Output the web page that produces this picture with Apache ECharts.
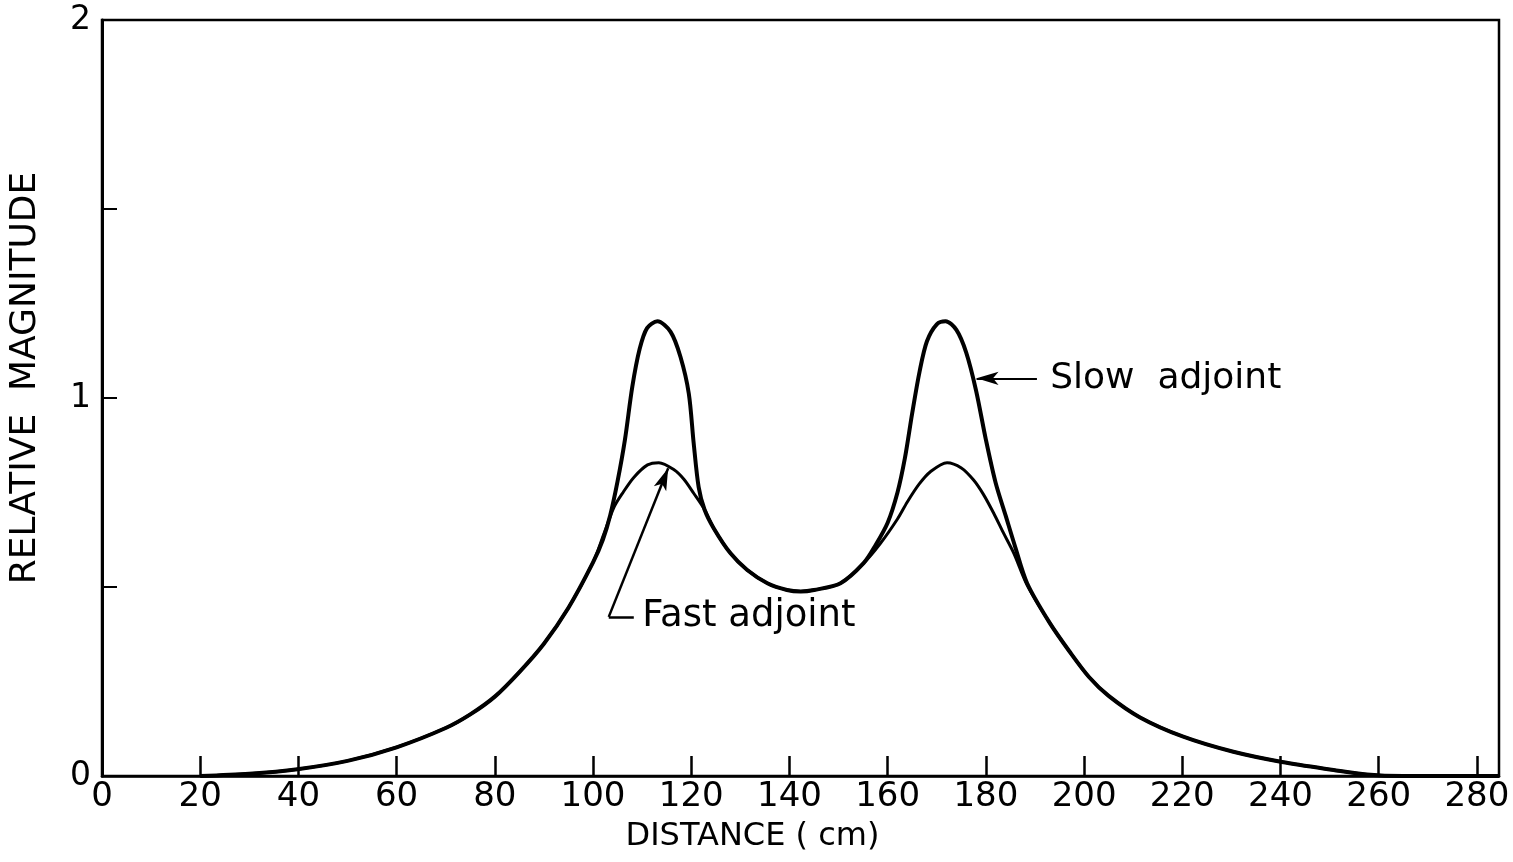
<!DOCTYPE html>
<html>
<head>
<meta charset="utf-8">
<script src="https://cdn.jsdelivr.net/npm/echarts@6/dist/echarts.min.js"></script>
<style>
  html, body { margin: 0; padding: 0; background: #fff; }
  #chart { width: 1513px; height: 862px; }
</style>
</head>
<body>
<div id="chart"></div>
<script>
// Distance (cm) and relative magnitude
const slowX = [20, 30, 39.8, 50, 60, 70, 75, 80, 85, 90, 95, 100, 102, 103.5, 105, 106.5, 108, 109.5, 111, 113.1, 115.8, 117.8, 119.5, 120.5, 121.5, 122.7, 124.6, 128, 131.4, 135.5, 139.5, 142.3, 145, 150.4, 155.1, 157.5, 160, 162, 163.5, 165, 166.5, 168, 170, 171.8, 174, 176, 178, 180, 182, 184, 186, 188.4, 193, 197, 201, 205, 211.4, 220.2, 230.4, 240.3, 250.8, 257.6, 265, 284.5];
const slowY = [0, 0.006, 0.018, 0.04, 0.076, 0.127, 0.163, 0.21, 0.275, 0.35, 0.445, 0.565, 0.625, 0.69, 0.78, 0.89, 1.03, 1.13, 1.185, 1.203, 1.175, 1.109, 1.012, 0.88, 0.765, 0.705, 0.655, 0.589, 0.545, 0.51, 0.492, 0.488, 0.492, 0.51, 0.563, 0.61, 0.67, 0.75, 0.84, 0.96, 1.07, 1.15, 1.195, 1.203, 1.18, 1.12, 1.02, 0.89, 0.775, 0.69, 0.605, 0.51, 0.405, 0.33, 0.262, 0.212, 0.155, 0.104, 0.064, 0.037, 0.016, 0.004, 0, 0];

const fastX = [20, 30, 39.8, 50, 60, 70, 75, 80, 85, 90, 95, 100, 102.2, 104.3, 106.2, 108.3, 111.1, 113.4, 116.5, 118.5, 120.5, 122.7, 124.6, 128, 131.4, 135.5, 139.5, 142.3, 145, 150.4, 155.1, 158.5, 162, 164, 166.4, 168.7, 172.1, 175, 177.5, 179.5, 181.6, 183.5, 185.7, 188.4, 193, 197, 201, 205, 211.4, 220.2, 230.4, 240.3, 250.8, 257.6, 265, 284.5];
const fastY = [0, 0.006, 0.018, 0.04, 0.076, 0.127, 0.163, 0.21, 0.275, 0.35, 0.445, 0.565, 0.64, 0.712, 0.752, 0.79, 0.823, 0.829, 0.81, 0.785, 0.748, 0.705, 0.655, 0.589, 0.545, 0.51, 0.492, 0.488, 0.492, 0.51, 0.563, 0.615, 0.68, 0.725, 0.772, 0.805, 0.829, 0.815, 0.783, 0.745, 0.695, 0.645, 0.589, 0.505, 0.405, 0.33, 0.262, 0.212, 0.155, 0.104, 0.064, 0.037, 0.016, 0.004, 0, 0];

const xTickLabels = ['0', '20', '40', '60', '80', '100', '120', '140', '160', '180', '200', '220', '240', '260', '280'];
const yTickLabels = ['0', '1', '2'];

const slowLabel = 'Slow  adjoint';
const fastLabel = 'Fast adjoint';
const xTitle = 'DISTANCE ( cm)';
const yTitle = 'RELATIVE  MAGNITUDE';

const FONT = 'DejaVu Sans';
const pairs = (xs, ys) => xs.map((x, i) => [x, ys[i]]);

const chart = echarts.init(document.getElementById('chart'), null, { renderer: 'canvas' });
chart.setOption({
  animation: false,
  backgroundColor: '#ffffff',
  grid: { left: 101, right: 14, top: 20, bottom: 86, show: true, borderColor: '#000', borderWidth: 2.5, containLabel: false },
  xAxis: {
    type: 'value', min: 0, max: 284.5, interval: 20,
    axisLine: { show: true, lineStyle: { color: '#000', width: 2.5 } },
    axisTick: { show: true, inside: true, length: 20, lineStyle: { color: '#000', width: 2.5 } },
    axisLabel: {
      color: '#000', fontSize: 34, fontFamily: FONT, margin: 4, showMaxLabel: false,
      formatter: v => { const s = String(v); return xTickLabels.indexOf(s) >= 0 ? s : ''; }
    },
    splitLine: { show: false },
    name: xTitle, nameLocation: 'middle', nameGap: 45,
    nameTextStyle: { color: '#000', fontSize: 32, fontFamily: FONT, padding: [0, 96, 0, 0] }
  },
  yAxis: {
    type: 'value', min: 0, max: 2, interval: 0.5,
    axisLine: { show: true, lineStyle: { color: '#000', width: 3 } },
    axisTick: { show: true, inside: true, length: 15, lineStyle: { color: '#000', width: 2 } },
    axisLabel: {
      color: '#000', fontSize: 33, fontFamily: FONT, margin: 11,
      formatter: v => { const s = String(v); return yTickLabels.indexOf(s) >= 0 ? s : ''; }
    },
    splitLine: { show: false },
    name: yTitle, nameLocation: 'middle', nameGap: 58, nameRotate: 90,
    nameTextStyle: { color: '#000', fontSize: 36, fontFamily: FONT, padding: [0, 0, 0, 40] }
  },
  series: [
    {
      name: 'Slow adjoint', type: 'line', data: pairs(slowX, slowY),
      smooth: 0.3, showSymbol: false, symbol: 'none',
      lineStyle: { color: '#000', width: 4 },
      markLine: {
        silent: true, animation: false,
        lineStyle: { color: '#000', width: 2, type: 'solid' },
        label: { show: false },
        data: [
          [ { coord: [190.4, 1.052], symbol: 'none' }, { coord: [178.1, 1.052], symbol: 'arrow', symbolSize: [10, 22] } ]
        ]
      },
      markPoint: {
        silent: true, symbol: 'circle', symbolSize: 0,
        data: [ { coord: [193.1, 1.052], value: 0,
          label: { show: true, position: 'right', distance: 0, formatter: slowLabel, color: '#000', fontSize: 36, fontFamily: FONT } } ]
      }
    },
    {
      name: 'Fast adjoint', type: 'line', data: pairs(fastX, fastY),
      smooth: 0.3, showSymbol: false, symbol: 'none',
      lineStyle: { color: '#000', width: 3 },
      markLine: {
        silent: true, animation: false,
        lineStyle: { color: '#000', width: 2.5, type: 'solid' },
        label: { show: false },
        data: [
          [ { coord: [108.3, 0.421], symbol: 'none' }, { coord: [103.2, 0.421], symbol: 'none' } ],
          [ { coord: [103.2, 0.421], symbol: 'none' }, { coord: [115.3, 0.814], symbol: 'arrow', symbolSize: [10, 22] } ]
        ]
      },
      markPoint: {
        silent: true, symbol: 'circle', symbolSize: 0,
        data: [ { coord: [110.0, 0.421], value: 0,
          label: { show: true, position: 'right', distance: 0, formatter: fastLabel, color: '#000', fontSize: 37, fontFamily: FONT } } ]
      }
    }
  ]
});
</script>
</body>
</html>
